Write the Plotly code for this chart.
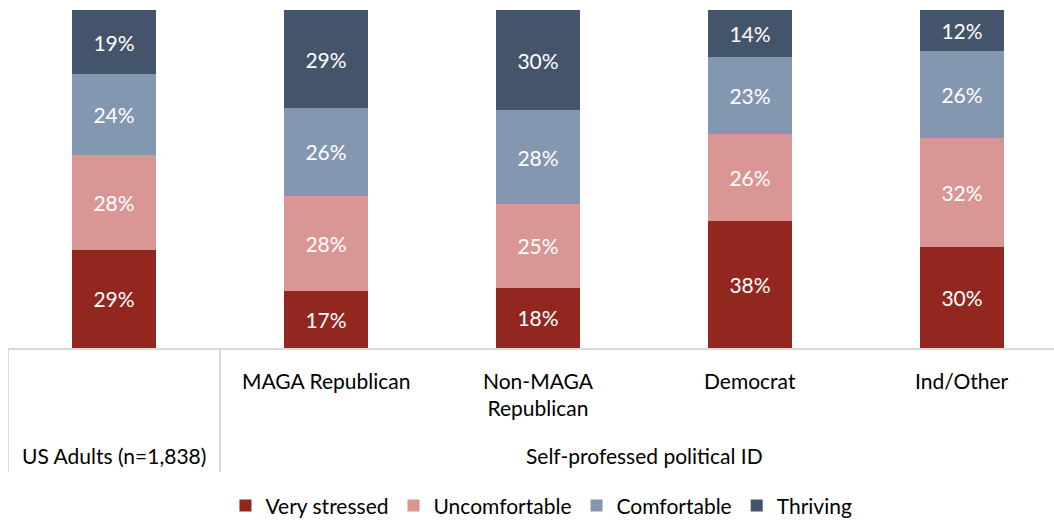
import plotly.graph_objects as go

categories = ["US Adults (n=1,838)", "MAGA Republican", "Non-MAGA<br>Republican", "Democrat", "Ind/Other"]
cat_keys = ["US", "MAGA", "NonMAGA", "Dem", "Ind"]
very_stressed = [29, 17, 18, 38, 30]
uncomfortable = [28, 28, 25, 26, 32]
comfortable = [24, 26, 28, 23, 26]
thriving = [19, 29, 30, 14, 12]
group_label = "Self-professed political ID"

series = [
    ("Very stressed", very_stressed, "#922720"),
    ("Uncomfortable", uncomfortable, "#da9694"),
    ("Comfortable", comfortable, "#8497b0"),
    ("Thriving", thriving, "#44546a"),
]

FONT = "Lato"
FS = 21

fig = go.Figure()
for name, vals, color in series:
    fig.add_trace(go.Bar(
        x=cat_keys, y=vals, name=name, marker=dict(color=color, line=dict(width=0)),
        width=0.4, text=vals, texttemplate="%{text}%", textposition="inside",
        insidetextanchor="middle", textangle=0, constraintext="none",
        textfont=dict(color="white", size=FS, family=FONT),
    ))

fig.update_layout(
    barmode="stack", barnorm="percent",
    width=1054, height=521,
    margin=dict(l=8, r=0, t=10, b=173, autoexpand=False),
    plot_bgcolor="white", paper_bgcolor="white",
    font=dict(family=FONT, size=FS, color="#000000"),
    showlegend=True,
    legend=dict(orientation="h", x=0.51, xanchor="center", y=-0.467, yanchor="middle",
                traceorder="normal", font=dict(size=FS, family=FONT), itemwidth=30),
    xaxis=dict(range=[-0.5, -0.5 + 1046 / 212], showticklabels=False, showgrid=False,
               showline=True, linecolor="#d9d9d9", linewidth=2, ticks="", zeroline=False,
               fixedrange=True),
    yaxis=dict(range=[0, 100], visible=False, showgrid=False),
)

# category labels
for i, (k, lab) in enumerate(zip(cat_keys, categories)):
    if i == 0:
        fig.add_annotation(x=k, xref="x", y=-0.317, yref="paper", text=lab, showarrow=False,
                           yanchor="middle", font=dict(size=FS, family=FONT))
    else:
        fig.add_annotation(x=k, xref="x", y=-0.052, yref="paper", text=lab, showarrow=False,
                           yanchor="top", font=dict(size=FS, family=FONT))

fig.add_annotation(x=2.5, xref="x", y=-0.317, yref="paper", text=group_label, showarrow=False,
                   yanchor="middle", font=dict(size=FS, family=FONT))

# divider lines
for xv in [-0.5, 0.5]:
    fig.add_shape(type="line", xref="x", yref="paper", x0=xv, x1=xv, y0=0, y1=-0.367,
                  line=dict(color="#d9d9d9", width=2))

fig.write_html("out.html")
